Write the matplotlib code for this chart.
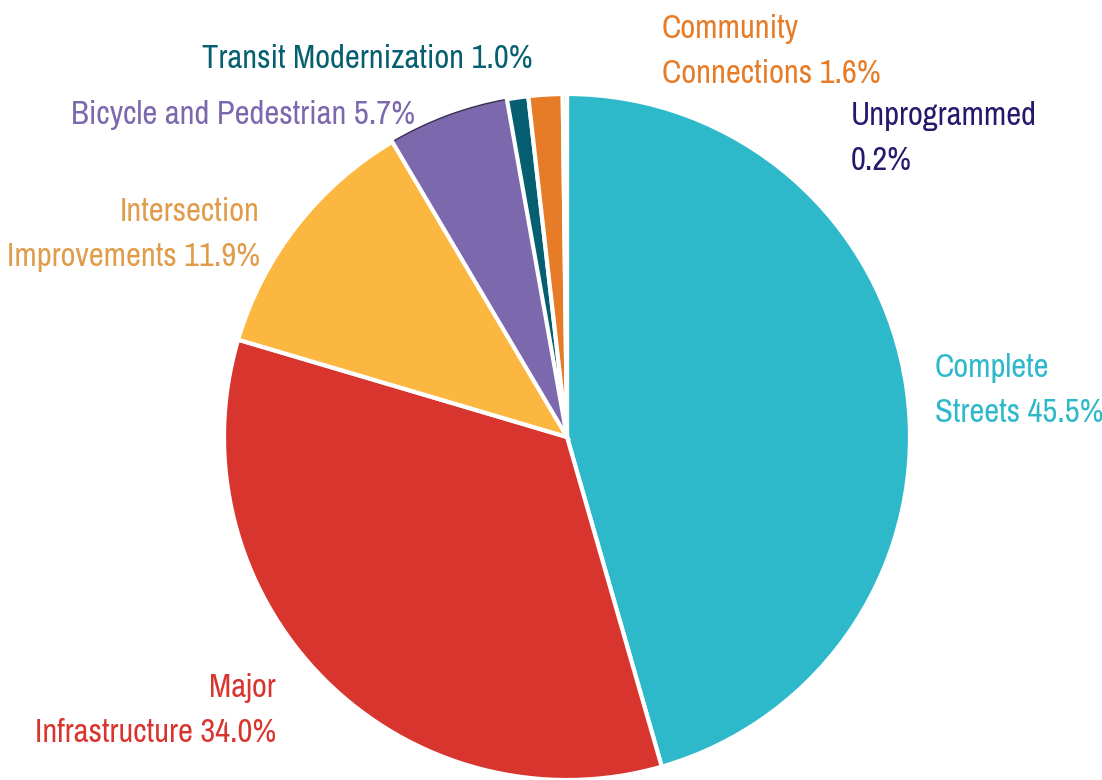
import matplotlib.pyplot as plt
from matplotlib import font_manager

# data
categories = ["Complete Streets", "Major Infrastructure", "Intersection Improvements",
              "Bicycle and Pedestrian", "Transit Modernization", "Community Connections",
              "Unprogrammed"]
shares = [45.5, 34.0, 11.9, 5.7, 1.0, 1.6, 0.2]
slice_colors = ["#2EB9CB", "#D8352E", "#FBB740", "#7B68AD", "#065F70", "#E67C27", "#24196B"]
label_texts = ["Complete\nStreets 45.5%", "Major\nInfrastructure 34.0%",
               "Intersection\nImprovements 11.9%", "Bicycle and Pedestrian 5.7%",
               "Transit Modernization 1.0%", "Community\nConnections 1.6%",
               "Unprogrammed\n0.2%"]
label_colors = ["#2EB9CB", "#D8352E", "#E09C4A", "#7B68AD", "#065F70", "#E67C27", "#24196B"]

# prefer a condensed face if one is installed
names = sorted({f.name for f in font_manager.fontManager.ttflist})
cond = [n for n in names if "Condensed" in n or "Narrow" in n]
fam = cond[0] if cond else "Liberation Sans"

W, H = 1102, 780
fig = plt.figure(figsize=(W / 100, H / 100), dpi=100)

# pie centre (567, 437) px, radius 343 px
cx, cy, r = 567, 437, 343
ax = fig.add_axes([(cx - r) / W, (H - cy - r) / H, 2 * r / W, 2 * r / H])
wedges, _ = ax.pie(shares, colors=slice_colors, startangle=90, counterclock=False,
                   wedgeprops=dict(edgecolor="white", linewidth=3))
wedges[3].set_edgecolor("#3a3050")
wedges[3].set_linewidth(1)
wedges[3].set_zorder(0)
ax.set_xlim(-1, 1)
ax.set_ylim(-1, 1)
ax.set_aspect("equal")

# fit font size so "Transit Modernization 1.0%" is about 330 px wide
renderer = fig.canvas.get_renderer()
probe = fig.text(0, 0, label_texts[4], fontsize=20, family=fam)
w = probe.get_window_extent(renderer).width
probe.remove()
fs = 20 * 330 / w

# label anchors in pixel coords (x, baseline of first line, alignment)
pos = [(935, 377, "left"), (276, 697, "right"), (260, 221, "right"),
       (415, 124, "right"), (533, 68, "right"), (662, 38, "left"), (851, 125, "left")]
for txt, col, (x, y, ha) in zip(label_texts, label_colors, pos):
    for i, line in enumerate(txt.split("\n")):
        fig.text(x / W, 1 - (y + 45 * i) / H, line, color=col, ha=ha,
                 va="baseline", fontsize=fs, family=fam)

fig.savefig("out.png", dpi=100)
